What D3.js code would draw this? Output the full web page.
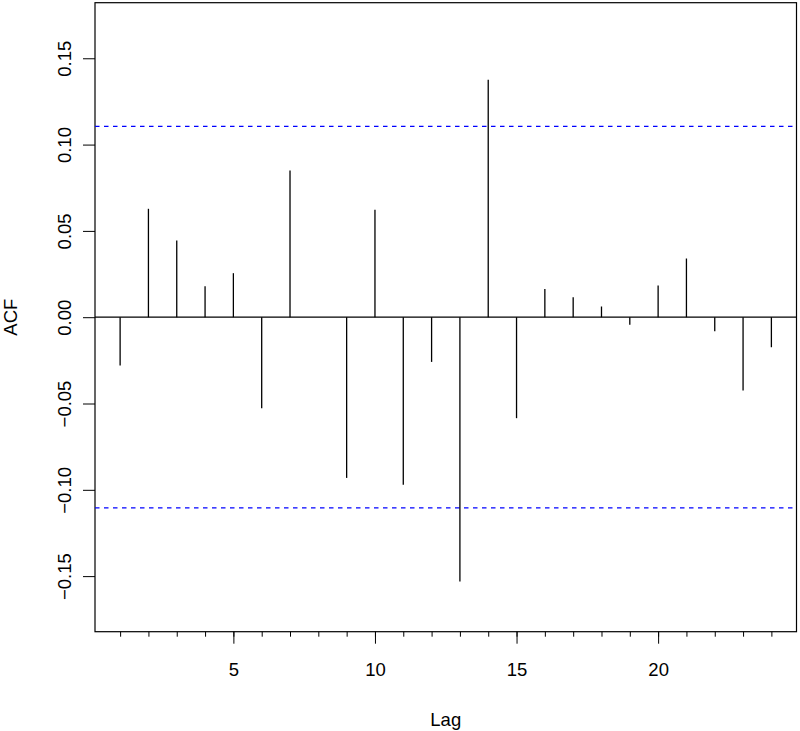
<!DOCTYPE html>
<html>
<head>
<meta charset="utf-8">
<script src="https://cdn.jsdelivr.net/npm/d3@7"></script>
<style>
  body { margin: 0; background: #fff; }
  text { font-family: "Liberation Sans", Arial, sans-serif; }
</style>
</head>
<body>
<svg width="800" height="731"></svg>
<script>
// autocorrelation values, lags 1..24
var lags = [1, 2, 3, 4, 5, 6, 7, 8, 9, 10, 11, 12, 13, 14, 15, 16, 17, 18, 19, 20, 21, 22, 23, 24];
var acfValues = [-0.028, 0.0628, 0.0444, 0.018, 0.0255, -0.0527, 0.085, 0.0, -0.0931, 0.0622,
                 -0.0971, -0.0259, -0.1531, 0.1375, -0.0585, 0.0164, 0.0116, 0.0062, -0.0044, 0.0184,
                 0.034, -0.0081, -0.0425, -0.0174];
var ciLimit = 0.1105;
var yTicks = [-0.15, -0.10, -0.05, 0.00, 0.05, 0.10, 0.15];
var xMajorTicks = [5, 10, 15, 20];
var xMinorTicks = lags;

var svg = d3.select("svg"),
    box = {left: 95, right: 796.5, top: 2.7, bottom: 631.7},
    fontSize = 18.5;

var x = d3.scaleLinear().domain([0.113, 24.887]).range([box.left, box.right]),
    y = d3.scaleLinear().domain([-0.1822, 0.1822]).range([box.bottom, box.top]);

function fmt(d) {
  var s = Math.abs(d).toFixed(2);
  return (d < 0 ? "\u2212" : "") + s;
}

// y axis
var yAxis = svg.append("g")
    .attr("transform", "translate(" + box.left + ",0)")
    .call(d3.axisLeft(y).tickValues(yTicks).tickSize(12).tickFormat(fmt));
yAxis.select(".domain").remove();
yAxis.selectAll("line").attr("stroke", "#000").attr("stroke-width", 1);
yAxis.selectAll("text")
    .attr("x", null).attr("dy", null)
    .attr("transform", function(d) { return "translate(-24," + y(d) + ") rotate(-90)"; })
    .attr("y", 0)
    .attr("text-anchor", "middle")
    .attr("fill", "#000")
    .style("font-size", fontSize + "px");
// move the tick groups' text out of their translate
yAxis.selectAll(".tick").each(function(d) {
  var t = d3.select(this);
  t.select("text").attr("transform", "translate(-24,0) rotate(-90)");
});

// x axis: minor ticks then major ticks
var xMinor = svg.append("g")
    .attr("transform", "translate(0," + box.bottom + ")")
    .call(d3.axisBottom(x).tickValues(xMinorTicks).tickSize(5).tickFormat(""));
xMinor.select(".domain").remove();
xMinor.selectAll("line").attr("stroke", "#000");

var xMajor = svg.append("g")
    .attr("transform", "translate(0," + box.bottom + ")")
    .call(d3.axisBottom(x).tickValues(xMajorTicks).tickSize(12));
xMajor.select(".domain").remove();
xMajor.selectAll("line").attr("stroke", "#000");
xMajor.selectAll("text")
    .attr("y", 44.3).attr("dy", null)
    .attr("fill", "#000")
    .style("font-size", fontSize + "px");

// plot box
svg.append("rect")
    .attr("x", box.left).attr("y", box.top)
    .attr("width", box.right - box.left).attr("height", box.bottom - box.top)
    .attr("fill", "none").attr("stroke", "#000").attr("stroke-width", 1.2);

// zero line
svg.append("line")
    .attr("x1", box.left).attr("x2", box.right)
    .attr("y1", y(0)).attr("y2", y(0))
    .attr("stroke", "#000").attr("stroke-width", 1.2);

// confidence limits
[ciLimit, -ciLimit].forEach(function(c) {
  svg.append("line")
      .attr("x1", box.left).attr("x2", box.right)
      .attr("y1", y(c)).attr("y2", y(c))
      .attr("stroke", "#0000ff").attr("stroke-width", 1.2)
      .attr("stroke-dasharray", "4.5,4.5");
});

// acf spikes
svg.append("g").selectAll("line")
    .data(lags)
    .enter().append("line")
      .attr("x1", function(d) { return x(d); })
      .attr("x2", function(d) { return x(d); })
      .attr("y1", y(0))
      .attr("y2", function(d, i) { return y(acfValues[i]); })
      .attr("stroke", "#000").attr("stroke-width", 1.3);

// axis titles
svg.append("text")
    .attr("x", (box.left + box.right) / 2).attr("y", 726)
    .attr("text-anchor", "middle")
    .style("font-size", fontSize + "px")
    .text("Lag");

svg.append("text")
    .attr("transform", "translate(16.7," + y(0) + ") rotate(-90)")
    .attr("text-anchor", "middle")
    .style("font-size", fontSize + "px")
    .text("ACF");
</script>
</body>
</html>
